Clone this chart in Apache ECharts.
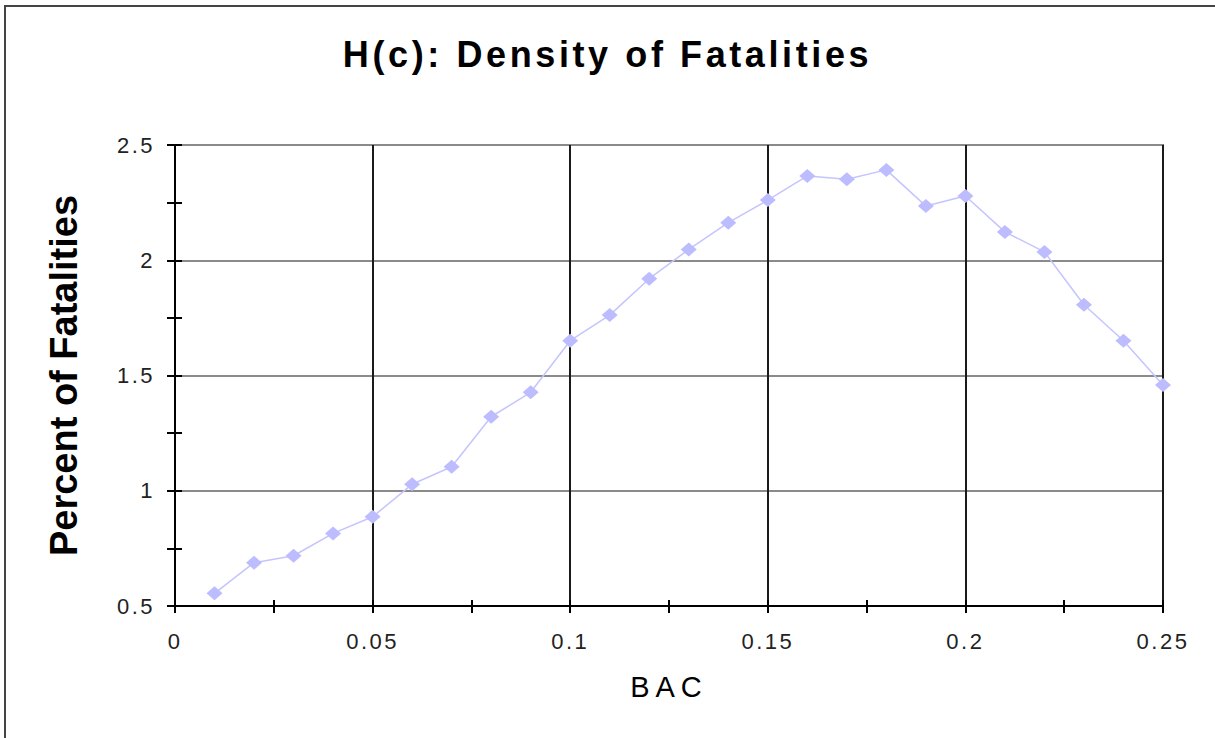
<!DOCTYPE html>
<html>
<head>
<meta charset="utf-8">
<script src="https://cdn.jsdelivr.net/npm/echarts@6/dist/echarts.min.js"></script>
<style>
  html, body { margin: 0; padding: 0; background: #fff; }
  #chart { width: 1215px; height: 738px; }
</style>
</head>
<body>
<div id="chart"></div>
<script>
// ---- data ----
const titleText = 'H(c): Density of Fatalities';
const xName = 'BAC';
const yName = 'Percent of Fatalities';
const bac = [0.01, 0.02, 0.03, 0.04, 0.05, 0.06, 0.07, 0.08, 0.09, 0.10, 0.11, 0.12, 0.13,
             0.14, 0.15, 0.16, 0.17, 0.18, 0.19, 0.20, 0.21, 0.22, 0.23, 0.24, 0.25];
const percent = [0.555, 0.688, 0.718, 0.815, 0.887, 1.028, 1.104, 1.321, 1.427, 1.651, 1.762, 1.920, 2.047,
                 2.163, 2.261, 2.366, 2.351, 2.392, 2.235, 2.279, 2.123, 2.036, 1.807, 1.651, 1.459];
const xTicks = { min: 0, max: 0.25, interval: 0.05 };
const yTicks = { min: 0.5, max: 2.5, interval: 0.5 };

const points = bac.map((x, i) => [x, percent[i]]);
const labelFont = { fontFamily: 'Liberation Sans, Arial, sans-serif', fontSize: 22, color: '#222' };

function baseX(extra) {
  return Object.assign({
    type: 'value', min: xTicks.min, max: xTicks.max, interval: xTicks.interval,
    position: 'bottom'
  }, extra);
}
function baseY(extra) {
  return Object.assign({
    type: 'value', min: yTicks.min, max: yTicks.max, interval: yTicks.interval,
    position: 'left'
  }, extra);
}

const chart = echarts.init(document.getElementById('chart'), null, { renderer: 'svg' });
chart.setOption({
  animation: false,
  backgroundColor: '#fff',
  title: {
    text: titleText, left: 'center', top: 31,
    textStyle: { fontFamily: 'Liberation Sans, Arial, sans-serif', fontSize: 36, fontWeight: 'bold', color: '#000' }
  },
  graphic: [{
    type: 'rect', silent: true,
    shape: { x: 5, y: 6, width: 1400, height: 900 },
    style: { fill: 'none', stroke: '#444', lineWidth: 2 }
  }],
  grid: {
    left: 175, right: 52, top: 145, bottom: 132,
    show: true, borderColor: '#000', borderWidth: 1.5, backgroundColor: 'transparent'
  },
  xAxis: [
    baseX({
      name: xName, nameLocation: 'middle', nameGap: 66,
      nameTextStyle: { fontFamily: 'Liberation Sans, Arial, sans-serif', fontSize: 29, color: '#000' },
      axisLine: { show: true, lineStyle: { color: '#000', width: 2 } },
      axisTick: { show: true, inside: false, length: 7, lineStyle: { color: '#000', width: 2 } },
      minorTick: { show: true, splitNumber: 2, length: 7, lineStyle: { color: '#000', width: 2 } },
      axisLabel: Object.assign({ margin: 24, formatter: v => String(+v.toFixed(2)) }, labelFont),
      splitLine: { show: true, lineStyle: { color: '#1a1a1a', width: 2 } }
    }),
    baseX({
      axisLine: { show: false },
      axisTick: { show: true, inside: true, length: 6, lineStyle: { color: '#000', width: 2 } },
      minorTick: { show: true, splitNumber: 2, length: 6, lineStyle: { color: '#000', width: 2 } },
      axisLabel: { show: false },
      splitLine: { show: false }
    })
  ],
  yAxis: [
    baseY({
      name: yName, nameLocation: 'middle', nameGap: 92, nameRotate: 90,
      nameTextStyle: { fontFamily: 'Liberation Sans, Arial, sans-serif', fontSize: 38, fontWeight: 'bold', color: '#000' },
      axisLine: { show: true, lineStyle: { color: '#000', width: 2 } },
      axisTick: { show: true, inside: false, length: 8, lineStyle: { color: '#000', width: 2 } },
      minorTick: { show: true, splitNumber: 2, length: 8, lineStyle: { color: '#000', width: 2 } },
      axisLabel: Object.assign({ margin: 20, formatter: v => String(+v.toFixed(2)) }, labelFont),
      splitLine: { show: true, lineStyle: { color: '#8a8a8a', width: 2 } }
    }),
    baseY({
      axisLine: { show: false },
      axisTick: { show: true, inside: true, length: 7, lineStyle: { color: '#000', width: 2 } },
      minorTick: { show: true, splitNumber: 2, length: 7, lineStyle: { color: '#000', width: 2 } },
      axisLabel: { show: false },
      splitLine: { show: false }
    })
  ],
  series: [{
    type: 'line',
    xAxisIndex: 0, yAxisIndex: 0,
    data: points,
    symbol: 'diamond', symbolSize: [16, 14],
    lineStyle: { color: '#c4c4ff', width: 1.5 },
    itemStyle: { color: '#bcbcff' },
    z: 5
  }]
});

// letter spacing to mimic the spaced-out lettering of the original
function applySpacing() {
  document.querySelectorAll('#chart svg text').forEach(t => {
    const txt = t.textContent;
    let ls = 2.5;
    if (txt === titleText) ls = 3.6;
    else if (txt === xName) ls = 6;
    else if (txt === yName) ls = 0;
    t.style.letterSpacing = ls + 'px';
  });
}
chart.on('finished', applySpacing);
applySpacing();
</script>
</body>
</html>
